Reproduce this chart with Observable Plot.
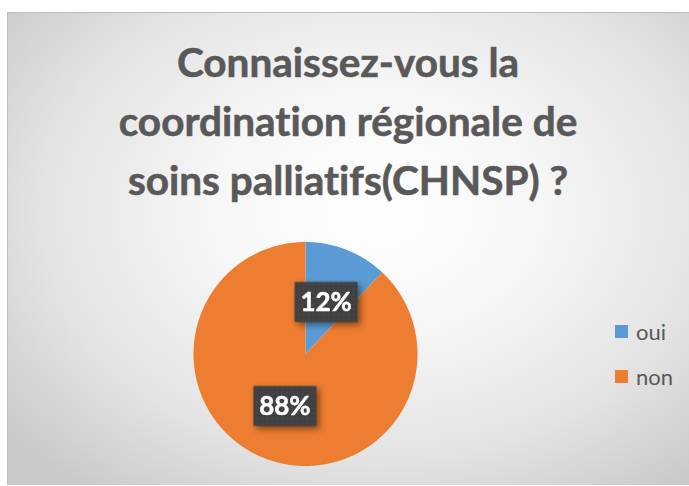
<!DOCTYPE html>
<html><head><meta charset="utf-8">
<script src="https://cdn.jsdelivr.net/npm/d3@7"></script>
<script src="https://cdn.jsdelivr.net/npm/@observablehq/plot@0.6"></script>
<style>
html,body{margin:0;padding:0;background:#fff;width:689px;height:486px;overflow:hidden;}
#frame{position:absolute;left:7px;top:12px;width:682px;height:473px;box-sizing:border-box;border-top:1px solid #bdbdbd;border-left:1px solid #bdbdbd;
background:radial-gradient(ellipse 70% 75% at 54% 42%, #ffffff 0%, #f6f6f6 35%, #e3e3e3 70%, #c9c9c9 100%);}
#title{position:absolute;left:7px;width:682px;top:32px;text-align:center;font-family:Lato,"Open Sans",sans-serif;font-weight:bold;color:#595959;font-size:40.5px;line-height:59px;font-variant-ligatures:none;-webkit-text-stroke:0.6px #595959;}
#chart{position:absolute;left:0;top:0;}
#legend{position:absolute;left:615px;top:318px;font-family:Lato,"Open Sans",sans-serif;font-size:22px;color:#595959;}
.item{display:flex;align-items:center;height:26px;margin-bottom:19px;}
.sw{width:13px;height:13px;margin-right:8px;}
svg text{font-variant-ligatures:none;}
</style>
</head><body>
<div id="frame"></div>
<div id="title"></div>
<div id="chart"></div>
<div id="legend"></div>
<script>
const categories = ["oui", "non"];
const values = [12, 88];
const labels = ["12%", "88%"];
const colors = ["#5B9BD5", "#ED7D31"];
const titleLines = ["Connaissez-vous la", "coordination régionale de", "soins palliatifs(CHNSP) ?"];

document.getElementById("title").innerHTML = titleLines.map(t => `<div>${t}</div>`).join("");

const rows = categories.map((c, i) => ({cat: c, value: values[i], label: labels[i]}));
const arcs = d3.pie().sort(null).value(d => d.value)(rows);

// slice outlines
const pts = [];
for (const a of arcs) {
  pts.push({cat: a.data.cat, x: 0, y: 0});
  const n = Math.max(2, Math.ceil((a.endAngle - a.startAngle) / 0.01));
  for (let k = 0; k <= n; k++) {
    const t = a.startAngle + (a.endAngle - a.startAngle) * k / n;
    pts.push({cat: a.data.cat, x: Math.sin(t), y: Math.cos(t)});
  }
  pts.push({cat: a.data.cat, x: 0, y: 0});
}
const labelRows = arcs.map(a => {
  const m = (a.startAngle + a.endAngle) / 2;
  return {label: a.data.label, x: 0.5 * Math.sin(m), y: 0.5 * Math.cos(m)};
});

const boxSymbol = {draw(ctx) { ctx.rect(-31.5, -20, 63, 40); }};

const cx = 305, cy = 353.5, R = 112;
const plot = Plot.plot({
  width: 689, height: 486,
  margin: 0,
  x: {domain: [-1, 1], range: [cx - R, cx + R], axis: null},
  y: {domain: [-1, 1], range: [cy + R, cy - R], axis: null},
  color: {domain: categories, range: colors},
  style: {background: "transparent", overflow: "visible"},
  marks: [
    Plot.line(pts, {x: "x", y: "y", z: "cat", fill: "cat", stroke: "none", curve: "linear"}),
    Plot.dot(labelRows, {x: "x", y: "y", symbol: boxSymbol, r: 10, fill: "url(#dotpat)", stroke: "none"}),
    Plot.text(labelRows, {x: "x", y: "y", text: "label", fill: "white", fontSize: 26, fontWeight: "bold", fontFamily: "Lato, 'Open Sans', sans-serif", dy: 1, stroke: "white", strokeWidth: 0.5})
  ]
});
document.getElementById("chart").appendChild(plot);

const svg = d3.select(plot);
const defs = svg.insert("defs", ":first-child");
const pat = defs.append("pattern").attr("id", "dotpat").attr("patternUnits", "userSpaceOnUse").attr("width", 5).attr("height", 5);
pat.append("rect").attr("width", 5).attr("height", 5).attr("fill", "#404040");
pat.append("circle").attr("cx", 2.5).attr("cy", 2.5).attr("r", 0.8).attr("fill", "#565656");
svg.selectAll('g[aria-label="dot"]').style("filter", "drop-shadow(3px 3px 3px rgba(0,0,0,0.45))");

document.getElementById("legend").innerHTML = categories.map((c, i) =>
  `<div class="item"><div class="sw" style="background:${colors[i]}"></div><span>${c}</span></div>`).join("");
</script>
</body></html>
